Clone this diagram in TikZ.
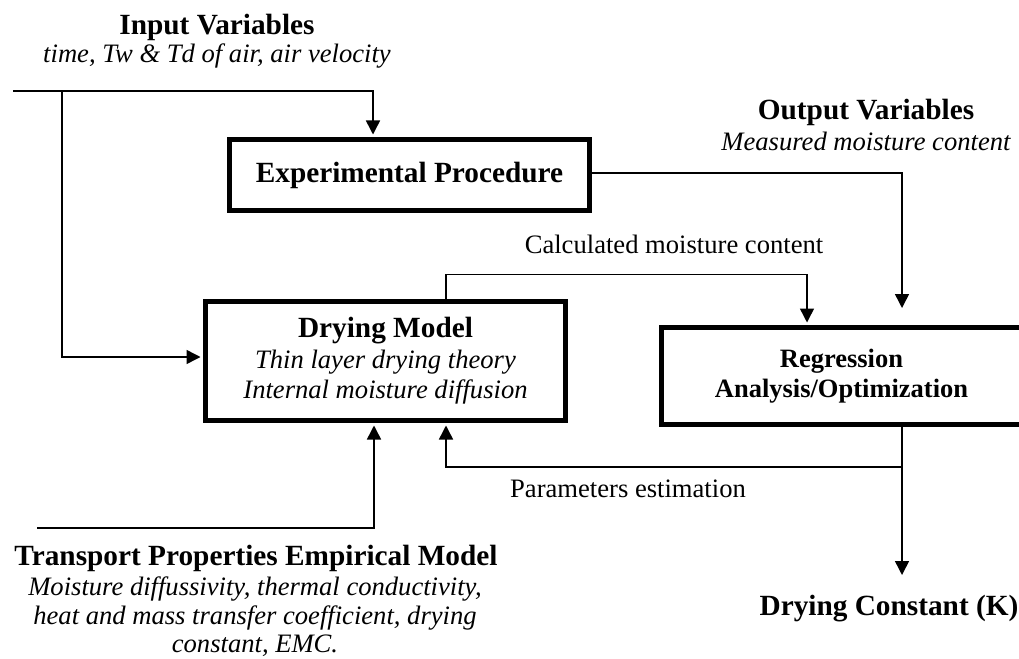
\documentclass[tikz,border=0pt]{standalone}
\usepackage{fontspec}
\setmainfont{Liberation Serif}
\usetikzlibrary{arrows.meta,positioning}

\tikzset{
  procbox/.style={draw,line width=5pt,minimum width=360pt,inner sep=0pt,align=center},
  link/.style={line width=1.5pt,-{Triangle[length=14pt,width=14pt]}},
  head/.style={font=\bfseries\fontsize{29.3}{30}\selectfont,inner sep=0pt,anchor=base},
  sub/.style={font=\itshape\fontsize{26.6}{28.5}\selectfont,inner sep=0pt,align=center},
  plain/.style={font=\fontsize{26.6}{30}\selectfont,inner sep=0pt,anchor=base}
}

\begin{document}
\begin{tikzpicture}[x=1pt,y=-1pt]
\useasboundingbox (0,0) rectangle (1019,658);

\node[procbox,minimum height=71pt,font=\bfseries\fontsize{29.3}{30}\selectfont] (exp) at (409.5,175) {Experimental Procedure};
\node[procbox,minimum height=119pt,font=\fontsize{26.6}{30.5}\selectfont] (dry) at (385.5,361)
  {{\bfseries\fontsize{29.3}{30.5}\selectfont Drying Model}\\ {\itshape Thin layer drying theory}\\ {\itshape Internal moisture diffusion}};
\node[procbox,minimum height=97pt,font=\bfseries\fontsize{26.5}{30}\selectfont] (reg) at (841.5,376) {Regression\\ Analysis/Optimization};

\node[head] (inhead) at (217,35) {Input Variables};
\node[sub,anchor=base] (insub) at (217,63) {time, Tw \& Td of air, air velocity};
\node[head] (outhead) at (866,120) {Output Variables};
\node[sub,anchor=base] (outsub) at (866,150) {Measured moisture content};
\node[plain] (calclab) at (674,253) {Calculated moisture content};
\node[plain] (parlab) at (628,497) {Parameters estimation};
\node[head] (tphead) at (256,565) {Transport Properties Empirical Model};
\node[sub,anchor=north] (tpsub) at (255,577) {Moisture diffussivity, thermal conductivity,\\ heat and mass transfer coefficient, drying\\ constant, EMC.};
\node[head] (kout) at (889,615) {Drying Constant (K)};

\coordinate (in0) at (13,91);
\coordinate (inj) at (62,91);
\coordinate (tp0) at (37,528);
\coordinate (mv) at (902,308);
\coordinate (fb) at (902,467);
\coordinate (kin) at (902,575);

\draw[link] (in0) -| ([xshift=-36.5pt,yshift=2.5pt]exp.north);
\draw[link] (inj) |- ([xshift=-2.5pt,yshift=4pt]dry.west);
\draw[link] ([yshift=2pt]exp.east) -| (mv);
\draw[link] ([xshift=60.5pt]dry.north) |- ([xshift=-34.5pt,yshift=50.5pt]reg.north) -- ([xshift=-34.5pt,yshift=2.5pt]reg.north);
\draw[link] ([xshift=60.5pt]reg.south) -- (kin);
\draw[link] (fb) -| ([xshift=60.5pt,yshift=-2.5pt]dry.south);
\draw[link] (tp0) -| ([xshift=-11.5pt,yshift=-2.5pt]dry.south);
\end{tikzpicture}
\end{document}
